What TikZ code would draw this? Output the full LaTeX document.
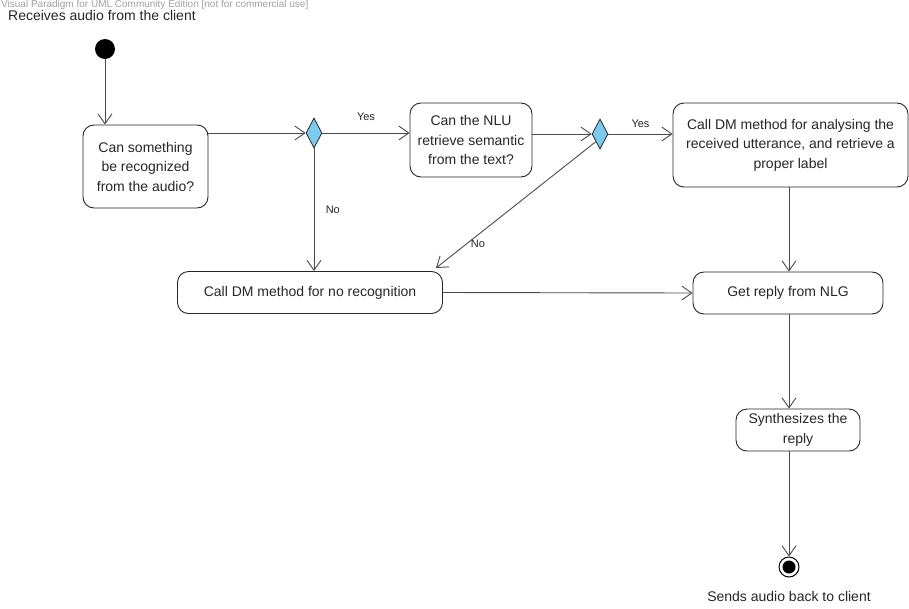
\documentclass[tikz,border=0pt]{standalone}
\usepackage{fontspec}
\setmainfont{Liberation Sans}
\usetikzlibrary{arrows.meta,shapes.geometric}
\definecolor{ink}{HTML}{262626}
\definecolor{wire}{HTML}{4A4A4A}
\definecolor{gem}{HTML}{7CCBEF}
\definecolor{mark}{HTML}{A0A0A0}

\begin{document}
\begin{tikzpicture}[x=1pt,y=-1pt,
  act/.style={draw=ink, line width=0.9pt, rounded corners=11pt, fill=white,
    align=center, font=\fontsize{14}{19.5}\selectfont, text=ink, inner sep=0pt},
  dec/.style={diamond, draw=ink, fill=gem, line width=0.8pt,
    minimum width=16pt, minimum height=30pt, inner sep=0pt},
  flow/.style={draw=wire, line width=0.9pt, -{Straight Barb[length=10pt,width=14pt]}},
  guard/.style={font=\fontsize{11}{13}\selectfont, text=ink},
  caption/.style={font=\fontsize{14}{17}\selectfont, text=ink}
]
\useasboundingbox (0,0) rectangle (909,608);

% edition stamp and start label
\node[anchor=west, inner sep=0pt, text=mark, font=\fontsize{10}{12}\selectfont] (stamp) at (1,5)
  {Visual Paradigm for UML Community Edition [not for commercial use]};
\node[caption, anchor=west, inner sep=0pt] (startlbl) at (8,15) {Receives audio from the client};

% start and end
\node[circle, fill=black, minimum size=20pt, inner sep=0pt] (init) at (105,49) {};
\node[circle, draw=black, line width=1pt, fill=white, minimum size=20pt, inner sep=0pt] (final) at (789,567) {};
\fill[black] (final.center) circle[radius=6.5pt];
\node[caption] (endlbl) at (789,596) {Sends audio back to client};

% actions
\node[act, minimum width=125pt, minimum height=83pt] (b1) at (145.5,166.5)
  {Can something\\be recognized\\from the audio?};
\node[act, minimum width=122pt, minimum height=74pt] (b2) at (471,140)
  {Can the NLU\\retrieve semantic\\from the text?};
\node[act, minimum width=235pt, minimum height=84pt] (b3) at (790.5,145)
  {Call DM method for analysing the\\received utterance, and retrieve a\\proper label};
\node[act, minimum width=265pt, minimum height=42pt] (b4) at (310,292.5)
  {Call DM method for no recognition};
\node[act, minimum width=190pt, minimum height=42pt] (b5) at (788,293)
  {Get reply from NLG};
\node[act, minimum width=124pt, minimum height=42pt] (b6) at (798,430)
  {Synthesizes the\\reply};

% decisions
\node[dec] (d1) at (314,133) {};
\node[dec] (d2) at (600,134) {};

% flows
\draw[flow] (init) -- (init |- b1.north);
\draw[flow] (d1 -| b1.east) -- (d1.west);
\draw[flow] (d1.east) -- (d1 -| b2.west) node[guard, midway, above=9pt] {Yes};
\draw[flow] (d2 -| b2.east) -- (d2.west);
\draw[flow] (d2.east) -- (d2 -| b3.west) node[guard, midway, above=3pt] {Yes};
\draw[flow] (d1.south) -- (d1 |- b4.north) node[guard, pos=0.5, right=8pt] {No};
\coordinate (b4in) at ([xshift=-7pt,yshift=3pt]b4.north east);
\draw[flow] (d2.south west) -- (b4in);
\node[guard] (no2) at (478,244) {No};
\draw[flow] (b3.south -| final) -- (b5.north -| final);
\draw[flow] (b4.east) -- (b5.west);
\draw[flow] (b5.south -| final) -- (b6.north -| final);
\draw[flow] (b6.south -| final) -- (final.north);
\end{tikzpicture}
\end{document}
